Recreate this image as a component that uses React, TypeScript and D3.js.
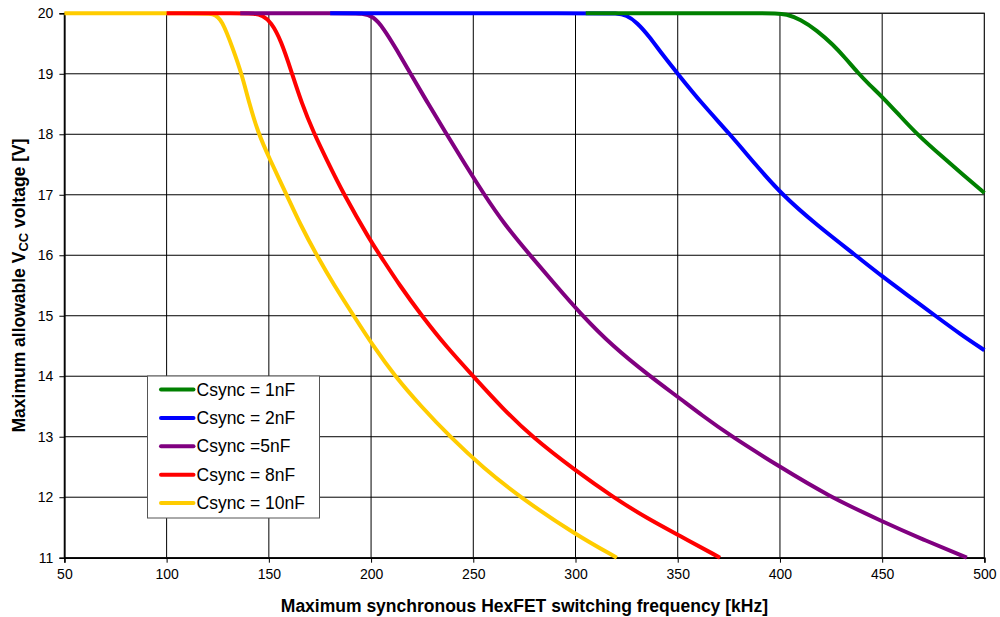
import React, { useEffect, useRef } from "react"
import * as d3 from "d3"

// frequency ticks [kHz] and voltage ticks [V]
const xTicks = [50, 100, 150, 200, 250, 300, 350, 400, 450, 500]
const yTicks = [11, 12, 13, 14, 15, 16, 17, 18, 19, 20]

// curves: [kHz, V]
const c1nF = [[305, 20], [390, 20], [398, 20], [403, 19.99], [410, 19.9], [418, 19.72], [426, 19.48], [432, 19.26], [438, 19.02], [444, 18.81], [450, 18.62], [458, 18.33], [467, 18.0], [480, 17.61], [490, 17.32], [500, 17.03]]
const c2nF = [[180, 20], [312, 20], [320, 20], [325, 19.97], [330, 19.85], [336, 19.62], [342, 19.34], [350, 19.0], [362, 18.5], [375.6, 18.0], [388, 17.5], [401, 17.0], [418, 16.5], [437, 16.0], [450, 15.65], [462, 15.35], [476, 15.0], [488, 14.7], [500, 14.43]]
const c5nF = [[136, 20], [188, 20], [196, 20], [201, 19.95], [206, 19.76], [212.5, 19.4], [219, 19.02], [228, 18.5], [237, 18.0], [246, 17.5], [255, 17.02], [265, 16.52], [277.8, 16.0], [290, 15.52], [302, 15.05], [318, 14.5], [336.4, 14.0], [350, 13.66], [362, 13.35], [375.6, 13.02], [400, 12.5], [423.7, 12.02], [450, 11.6], [470, 11.3], [491.4, 11.0]]
const c8nF = [[100, 20], [136, 20], [143, 20], [147, 19.96], [151, 19.86], [156, 19.55], [161.2, 19.02], [166, 18.52], [172, 18.02], [178, 17.6], [186.4, 17.02], [200, 16.22], [204.4, 16.0], [214, 15.5], [224.8, 15.0], [237, 14.48], [250, 14.0], [264, 13.48], [278.6, 13.0], [300, 12.44], [318.5, 12.0], [335, 11.65], [350, 11.38], [370.7, 11.0]]
const c10nF = [[50, 20], [116, 20], [123, 20], [127, 19.9], [132.6, 19.4], [136.7, 19.0], [140.5, 18.5], [144.8, 18.02], [150, 17.62], [158.7, 17.0], [165.5, 16.5], [173.4, 16.0], [182, 15.5], [191.5, 15.0], [201, 14.5], [211.7, 14.0], [224.5, 13.5], [238.6, 13.0], [255, 12.48], [272.9, 12.0], [300, 11.38], [320.2, 11.0]]

const names = ["Csync = 1nF", "Csync = 2nF", "Csync =5nF", "Csync = 8nF", "Csync = 10nF"]
const colors = ["#008000", "#0000ff", "#800080", "#ff0000", "#ffcc00"]
const series = [c1nF, c2nF, c5nF, c8nF, c10nF]

const font = "Arial, 'Liberation Sans', sans-serif"

export default function App() {
  const ref = useRef<SVGSVGElement>(null)

  useEffect(() => {
    const svg = d3.select(ref.current)
    svg.selectAll("*").remove()

    const left = 64.4, right = 984.4, top = 13.3, bottom = 557.7
    const x = d3.scaleLinear().domain([50, 500]).range([left, right])
    const y = d3.scaleLinear().domain([11, 20]).range([bottom, top])

    // grid
    svg.append("g").selectAll("line").data(xTicks).enter().append("line")
      .attr("x1", d => x(d)).attr("x2", d => x(d))
      .attr("y1", top).attr("y2", bottom)
      .attr("stroke", "#000").attr("stroke-width", 1)
    svg.append("g").selectAll("line").data(yTicks).enter().append("line")
      .attr("x1", left).attr("x2", right)
      .attr("y1", d => y(d)).attr("y2", d => y(d))
      .attr("stroke", "#000").attr("stroke-width", 1)

    // plot frame
    svg.append("rect")
      .attr("x", left).attr("y", top)
      .attr("width", right - left).attr("height", bottom - top)
      .attr("fill", "none").attr("stroke", "#222").attr("stroke-width", 1.2)

    // axes
    const yAxis = d3.axisLeft(y).tickValues(yTicks).tickSize(5).tickPadding(6)
    const gy = svg.append("g").attr("transform", `translate(${left},0)`).call(yAxis)
    const xAxis = d3.axisBottom(x).tickValues(xTicks).tickSize(5).tickPadding(6)
    const gx = svg.append("g").attr("transform", `translate(0,${bottom})`).call(xAxis)
    for (const g of [gx, gy]) {
      g.select(".domain").attr("stroke", "#000").attr("stroke-width", 1.5)
      g.selectAll(".tick line").attr("stroke", "#000")
      g.selectAll(".tick text").style("font-family", font).style("font-size", "14px").attr("fill", "#000")
    }

    // curves, 10nF first so 1nF ends on top
    const line = d3.line<number[]>()
      .x(d => x(d[0]))
      .y(d => y(d[1]))
      .curve(d3.curveBasis)
    for (let i = series.length - 1; i >= 0; i--) {
      svg.append("path")
        .attr("d", line(series[i]))
        .attr("fill", "none")
        .attr("stroke", colors[i])
        .attr("stroke-width", 4)
        .attr("stroke-linejoin", "round")
    }

    // legend
    const lg = svg.append("g").attr("transform", "translate(147.5,376)")
    lg.append("rect")
      .attr("width", 172).attr("height", 142)
      .attr("fill", "#fff").attr("stroke", "#555").attr("stroke-width", 1)
    names.forEach((n, i) => {
      const yy = 13.5 + i * 28.4
      lg.append("line")
        .attr("x1", 13.5).attr("x2", 46)
        .attr("y1", yy).attr("y2", yy)
        .attr("stroke", colors[i]).attr("stroke-width", 4)
        .attr("stroke-linecap", "round")
      lg.append("text")
        .attr("x", 49).attr("y", yy + 6)
        .style("font-family", font).style("font-size", "17.5px")
        .text(n)
    })

    // titles
    svg.append("text")
      .attr("x", (left + right) / 2).attr("y", 612)
      .attr("text-anchor", "middle")
      .style("font-family", font).style("font-size", "17.5px").style("font-weight", "bold")
      .text("Maximum synchronous HexFET switching frequency [kHz]")

    const yt = svg.append("text")
      .attr("transform", `translate(25,${(top + bottom) / 2}) rotate(-90)`)
      .attr("text-anchor", "middle")
      .style("font-family", font).style("font-size", "17.5px").style("font-weight", "bold")
    yt.append("tspan").text("Maximum allowable V")
    yt.append("tspan").attr("dy", 3).style("font-size", "13px").text("CC")
    yt.append("tspan").attr("dy", -3).text(" voltage [V]")
  }, [])

  return (
    <svg ref={ref} width={1000} height={617}
      style={{ position: "absolute", left: 0, top: 0, background: "#fff" }} />
  )
}
